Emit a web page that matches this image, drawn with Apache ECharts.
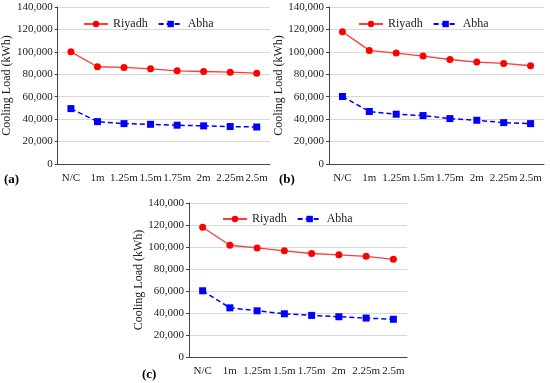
<!DOCTYPE html>
<html><head><meta charset="utf-8">
<script src="https://cdn.jsdelivr.net/npm/echarts@6/dist/echarts.min.js"></script>
<style>html,body{margin:0;padding:0;background:#fff}#c{width:550px;height:383px}</style>
</head><body><div id="c"></div>
<script>
const categories = ['N/C','1m','1.25m','1.5m','1.75m','2m','2.25m','2.5m'];
const yTicks = [0,20000,40000,60000,80000,100000,120000,140000];
const riyadhA = [100000,86700,86100,84900,83100,82500,81900,81000];
const abhaA   = [49400,37800,36000,35400,34600,34000,33400,33000];
const riyadhB = [118000,101300,98900,96200,93200,90900,89700,87600];
const abhaB   = [60200,46800,44400,43200,40500,39000,36900,36000];
const riyadhC = [118000,101600,99200,96500,94100,92900,91500,88800];
const abhaC   = [60200,44700,42000,39300,37800,36600,35400,34300];
const panelLabels = ['(a)','(b)','(c)'];

const font = 'Liberation Serif';
const grids = [
  {left:52, top:7, width:218, height:157},
  {left:329, top:7, width:215, height:157},
  {left:189, top:203, width:218, height:154}
];
const xAxes = grids.map((g,i)=>({
  type:'category', gridIndex:i, data:categories, boundaryGap:true,
  axisLine:{lineStyle:{color:'#444',width:1}},
  axisTick:{alignWithLabel:true, length:4, lineStyle:{color:'#444'}},
  axisLabel:{color:'#222', fontFamily:font, fontSize:11, margin:9, interval:0}
}));
const yAxes = grids.map((g,i)=>({
  type:'value', gridIndex:i, min:yTicks[0], max:yTicks[yTicks.length-1], interval:yTicks[1]-yTicks[0],
  name:'Cooling Load (kWh)', nameLocation:'middle', nameGap:37,
  nameTextStyle:{color:'#222', fontFamily:font, fontSize:12},
  axisLine:{show:true, lineStyle:{color:'#444',width:1}},
  axisTick:{show:true, length:3, lineStyle:{color:'#444'}},
  splitLine:{lineStyle:{color:'#d9d9d9',width:1}},
  axisLabel:{color:'#222', fontFamily:font, fontSize:11, margin:5,
    formatter:v=>v.toLocaleString('en-US')}
}));
const data = [[riyadhA,abhaA],[riyadhB,abhaB],[riyadhC,abhaC]];
const series = [];
data.forEach((d,i)=>{
  series.push({name:'Riyadh', type:'line', xAxisIndex:i, yAxisIndex:i, data:d[0],
    symbol:'circle', symbolSize:7, itemStyle:{color:'#ff0000'},
    lineStyle:{color:'#ff3b3b', width:1.3}, animation:false});
  series.push({name:'Abha', type:'line', xAxisIndex:i, yAxisIndex:i, data:d[1],
    symbol:'rect', symbolSize:7, itemStyle:{color:'#0000ff'},
    lineStyle:{color:'#0000ff', width:1.5, type:[5,3]}, animation:false});
});
const legendPos = [{left:78, top:13},{left:353, top:13},{left:217, top:208}];
const legends = legendPos.map(p=>({
  left:p.left, top:p.top, itemWidth:24, itemHeight:8, itemGap:10,
  textStyle:{color:'#222', fontFamily:font, fontSize:12}, data:['Riyadh','Abha'],
  selectedMode:false
}));
const labelPos = [[4,173],[279,173],[142,368]];
const graphic = panelLabels.map((t,i)=>({type:'text', left:labelPos[i][0], top:labelPos[i][1],
  style:{text:t, font:'bold 13px '+font, fill:'#000'}}));

const chart = echarts.init(document.getElementById('c'), null, {renderer:'canvas'});
chart.setOption({animation:false, grid:grids, xAxis:xAxes, yAxis:yAxes, series, legend:legends, graphic});
</script></body></html>
